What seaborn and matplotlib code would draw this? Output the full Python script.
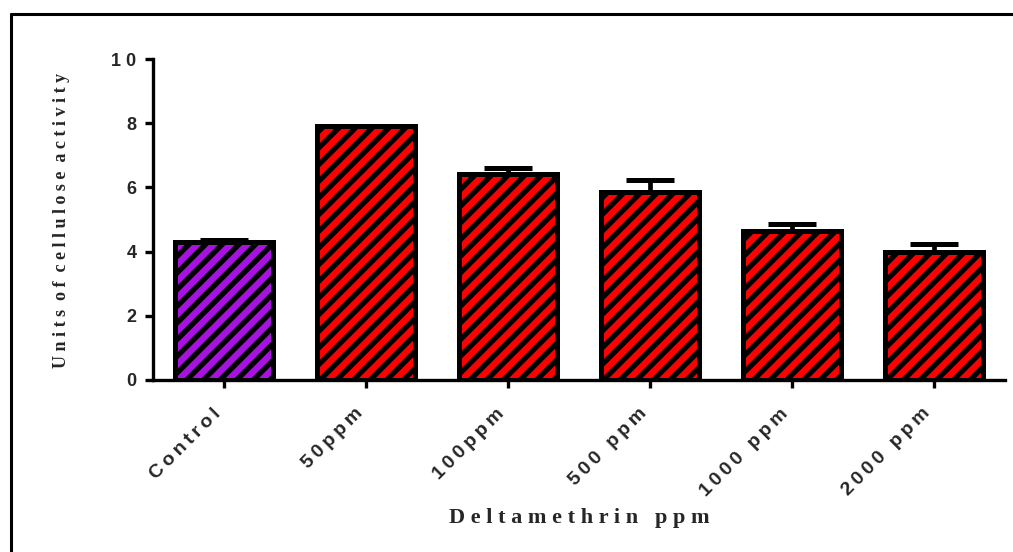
import numpy as np
import pandas as pd
import seaborn as sns
import matplotlib.pyplot as plt
from matplotlib.lines import Line2D
from matplotlib.transforms import ScaledTranslation

############# Chart data ######################
categories = ['Control', '50ppm', '100ppm', '500 ppm', '1000 ppm', '2000 ppm']
activity = [4.30, 7.90, 6.43, 5.85, 4.65, 3.98]
sem = [0.06, 0.0, 0.19, 0.37, 0.20, 0.25]
bar_colors = ['#A812E0', '#FF0000', '#FF0000', '#FF0000', '#FF0000', '#FF0000']
y_ticks = [0, 2, 4, 6, 8, 10]


def spaced(s, sep='\u2009'):
    # letter spacing like the original figure
    return sep.join(s)


df = pd.DataFrame({'group': categories, 'activity': activity, 'sem': sem})

############# Style ######################
sns.set_style('ticks')
plt.rcParams['hatch.linewidth'] = 3.8
plt.rcParams['hatch.color'] = 'black'
sans = ['Liberation Sans', 'DejaVu Sans']

fig = plt.figure(figsize=(10.13, 5.52), dpi=100)
ax = fig.add_axes([0.151, 0.3116, 0.841, 0.5814])

sns.barplot(data=df, x='group', y='activity', hue='group', palette=bar_colors,
            saturation=1, width=0.69, edgecolor='black', linewidth=3.6, legend=False,
            errorbar=None, ax=ax, zorder=2)

for patch in ax.patches:
    patch.set_hatch('//')

# error bars (upper only)
x_pos = np.arange(len(categories))
ax.errorbar(x_pos, df['activity'], yerr=[np.zeros(len(sem)), df['sem']],
            fmt='none', ecolor='black', elinewidth=3.4, capsize=17, capthick=3.6, zorder=1)

ax.set_xlim(-0.5, 5.5)
ax.set_ylim(0, 10)
ax.set_yticks(y_ticks)
ax.set_yticklabels([spaced(str(t), ' ') for t in y_ticks], family=sans,
                   fontweight='bold', fontsize=13)
ax.set_xticks(x_pos)
ax.set_xticklabels([spaced(c) for c in categories], rotation=45, ha='right',
                   rotation_mode='anchor', family=sans,
                   fontweight='bold', fontsize=14)

sns.despine(ax=ax)
for side in ['left', 'bottom']:
    ax.spines[side].set_linewidth(2.4)
    ax.spines[side].set_color('black')
ax.tick_params(axis='both', direction='out', length=6, width=2.4, color='black')
ax.tick_params(axis='y', pad=6)
ax.tick_params(axis='x', pad=12)

# nudge rotated labels left (after tick_params, which resets transforms)
shift = ScaledTranslation(-12 / 100, 0, fig.dpi_scale_trans)
for lbl in ax.get_xticklabels():
    lbl.set_transform(lbl.get_transform() + shift)

ax.set_xlabel('D e l t a m e t h r i n   p p m', fontfamily='Liberation Serif',
              fontweight='bold', fontsize=16)
ax.xaxis.set_label_coords(0.5, -0.398)
ax.set_ylabel('U n i t s  o f  c e l l u l o s e  a c t i v i t y', fontfamily='Liberation Serif',
              fontweight='bold', fontsize=13)
ax.yaxis.set_label_coords(-0.097, 0.498)

# partial frame around the figure (top and left only)
fig.add_artist(Line2D([0.0104, 1.0], [0.9746, 0.9746], color='black', linewidth=2.2,
                      transform=fig.transFigure))
fig.add_artist(Line2D([0.0104, 0.0104], [0.0, 0.9746], color='black', linewidth=2.2,
                      transform=fig.transFigure))

plt.savefig('out.png', dpi=100)
